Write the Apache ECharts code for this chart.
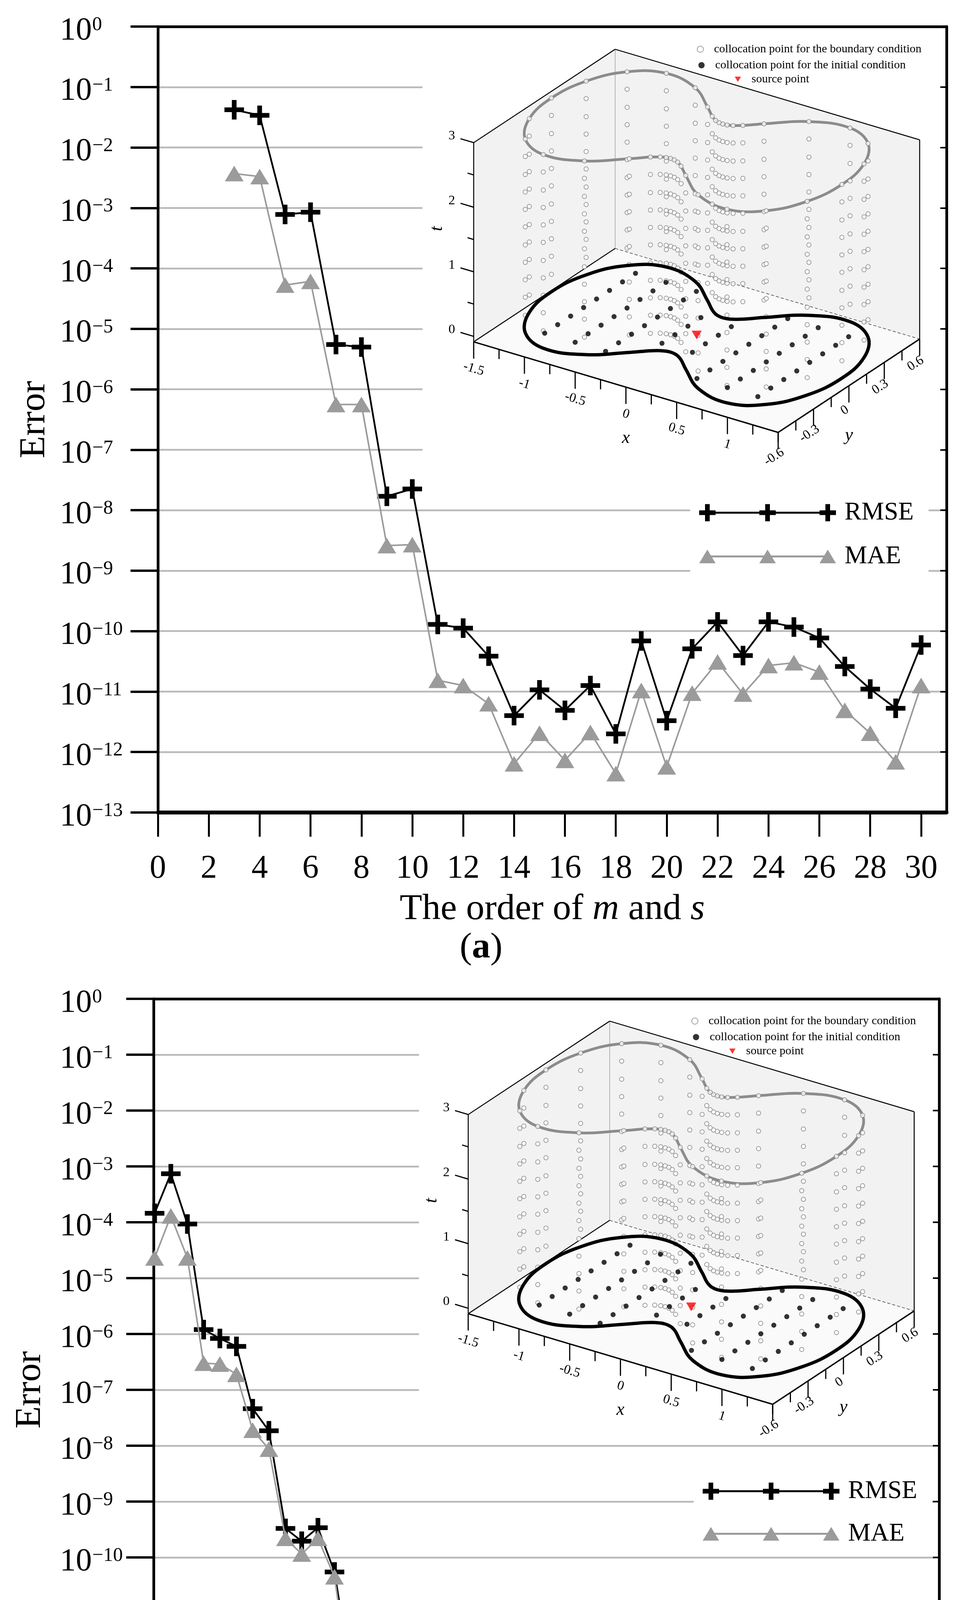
<!DOCTYPE html>
<html>
<head>
<meta charset="utf-8">
<title>Error against order and boundary collocation points</title>
<script src="https://cdn.jsdelivr.net/npm/echarts@6/dist/echarts.min.js"></script>
<style>
html, body { margin: 0; padding: 0; background: #fff; }
#chart { width: 2482px; height: 5000px; }
</style>
</head>
<body>
<div id="chart"></div>
<script>
// ---- (a) error against the order of m and s ----
var orderX = [3, 4, 5, 6, 7, 8, 9, 10, 11, 12, 13, 14, 15, 16, 17, 18, 19, 20, 21, 22, 23, 24, 25, 26, 27, 28, 29, 30];
var rmseOrder = [4.2e-2, 3.4e-2, 7.8e-4, 8.5e-4, 5.5e-6, 5.0e-6, 1.7e-8, 2.25e-8, 1.29e-10, 1.12e-10,
  3.85e-11, 4.0e-12, 1.07e-11, 4.9e-12, 1.26e-11, 2.0e-12, 6.9e-11, 3.3e-12, 5.1e-11, 1.42e-10,
  3.95e-11, 1.42e-10, 1.17e-10, 7.7e-11, 2.6e-11, 1.1e-11, 5.3e-12, 5.9e-11];
var maeOrder = [3.7e-3, 3.3e-3, 5.3e-5, 6.1e-5, 5.6e-7, 5.6e-7, 2.6e-9, 2.7e-9, 1.54e-11, 1.26e-11,
  6.3e-12, 6.4e-13, 2.05e-12, 7.3e-13, 2.1e-12, 4.4e-13, 1.04e-11, 5.7e-13, 9.4e-12, 3.1e-11,
  9.1e-12, 2.7e-11, 3.0e-11, 2.1e-11, 4.9e-12, 2.05e-12, 6.9e-13, 1.26e-11];
var orderTicks = [0, 2, 4, 6, 8, 10, 12, 14, 16, 18, 20, 22, 24, 26, 28, 30];

// ---- (b) error against the number of boundary collocation points ----
var pointsX = [136, 184, 233, 281, 329, 378, 426, 474, 523, 571, 619, 668,
  716, 764, 813, 861, 909, 958, 1006, 1054, 1103, 1151, 1199, 1248,
  1296, 1344, 1393, 1441, 1489, 1538, 1586, 1634, 1683, 1731, 1779, 1828,
  1876, 1924, 1973, 2021, 2069, 2118, 2166, 2214, 2263, 2311, 2359, 2408, 2456];
var rmsePoints = [1.45e-4, 7.4e-4, 9.3e-5, 1.2e-6, 8.3e-7, 6.0e-7, 4.6e-8, 1.85e-8, 3.3e-10, 1.95e-10, 3.4e-10, 5.5e-11,
  8.5e-13, 2.7e-12, 1.66e-12, 1.5e-12, 1.94e-12, 2.1e-13, 4.3e-13, 4.5e-13, 1.85e-13, 8.0e-13, 1.6e-13, 1.46e-13,
  3.0e-13, 3.1e-13, 1.6e-13, 1.8e-13, 1.7e-13, 1.85e-13, 1.85e-13, 1.85e-13, 1.85e-13, 1.85e-13, 1.85e-13, 1.85e-13,
  1.85e-13, 8.0e-14, 5.8e-13, 5.8e-13, 5.8e-13, 5.8e-13, 5.8e-13, 5.8e-13, 5.85e-13, 5.85e-13, 5.85e-13, 5.85e-13, 5.85e-13];
var maePoints = [2.3e-5, 1.3e-4, 2.3e-5, 3.0e-7, 2.9e-7, 1.9e-7, 1.9e-8, 8.7e-9, 2.2e-10, 1.15e-10, 2.2e-10, 4.5e-11,
  4.0e-13, 1.8e-12, 1.4e-12, 1.5e-12, 1.7e-12, 1.2e-13, 2.6e-13, 4.0e-13, 1.2e-13, 5.3e-13, 8.5e-14, 5.9e-14,
  1.6e-13, 1.45e-13, 5.4e-14, 6.1e-14, 5.9e-14, 1.0e-13, 7.0e-14, 7.0e-14, 9.2e-14, 8.5e-14, 8.5e-14, 9.0e-14,
  9.5e-14, 5.3e-14, 2.9e-13, 3.0e-13, 3.0e-13, 3.0e-13, 3.05e-13, 3.05e-13, 3.1e-13, 3.1e-13, 3.15e-13, 3.15e-13, 3.2e-13];
var pointsTicks = [300, 600, 900, 1200, 1500, 1800, 2100, 2400];

// ---- inset: peanut domain, boundary read in the first quadrant (mirrored below) ----
var boundQ1X = [1.431, 1.369, 1.187, 0.905, 0.560, 0.278, 0.151, 0.086, 0.040, 0.000];
var boundQ1Y = [0.000, 0.241, 0.432, 0.522, 0.470, 0.332, 0.262, 0.235, 0.224, 0.221];
var timeLevels = [0.27, 0.55, 0.82, 1.09, 1.36, 1.64, 1.91, 2.18, 2.45, 2.73, 3.0];
var nodeX = [-1.35, -1.05, -0.75, -0.45, -0.15, 0.15, 0.45, 0.75, 1.05, 1.35];
var nodeY = [-0.495, -0.385, -0.275, -0.165, -0.055, 0.055, 0.165, 0.275, 0.385, 0.495];
var sourcePoint = [0, 0, 0];
var insetXTicks = [-1.5, -1.25, -1, -0.75, -0.5, -0.25, 0, 0.25, 0.5, 0.75, 1, 1.25, 1.5];
var insetXLabels = [-1.5, -1, -0.5, 0, 0.5, 1];
var insetYTicks = [-0.6, -0.45, -0.3, -0.15, 0, 0.15, 0.3, 0.45, 0.6];
var insetYLabels = [-0.6, -0.3, 0, 0.3, 0.6];
var insetTTicks = [0, 0.5, 1, 1.5, 2, 2.5, 3];
var insetTLabels = [0, 1, 2, 3];

var FONT = 'Liberation Serif';
var NAME_BC = 'collocation point for the boundary condition';
var NAME_IC = 'collocation point for the initial condition';
var NAME_SP = 'source point';
var PLUS = 'path://M19 0H31V19H50V31H31V50H19V31H0V19H19Z';
var DOWN_TRI = 'path://M0 0H26L13 22Z';
var RMSE_ICON = 'path://M22 19.5H330V24.5H22Z M1 16H43V28H1Z M16 0H28V44H16Z M155 16H197V28H155Z M170 0H182V44H170Z M309 16H351V28H309Z M324 0H336V44H324Z';
var MAE_ICON = 'path://M22 19.5H330V24.5H22Z M22 4.5L43 39.5H1Z M176 4.5L197 39.5H155Z M330 4.5L351 39.5H309Z';

// oblique projection of (x, y, t) onto the inset plane
var EX = [259.7, -77.3], EY = [301.7, 199.2], ET = [0, 165.3];
var FLOOR_T = -0.085;
function proj(x, y, t) {
  return [x * EX[0] + y * EY[0] + t * ET[0], x * EX[1] + y * EY[1] + t * ET[1]];
}

var boundary = [];
for (var i = 0; i < boundQ1X.length; i++) boundary.push([boundQ1X[i], boundQ1Y[i]]);
for (i = boundQ1X.length - 2; i >= 0; i--) boundary.push([-boundQ1X[i], boundQ1Y[i]]);
var half = boundary.length;
for (i = 1; i < half - 1; i++) boundary.push([-boundary[i][0], -boundary[i][1]]);

function inside(px, py, poly) {
  var ins = false;
  for (var a = 0, b = poly.length - 1; a < poly.length; b = a++) {
    var xa = poly[a][0], ya = poly[a][1], xb = poly[b][0], yb = poly[b][1];
    if ((ya > py) !== (yb > py) && px < (xb - xa) * (py - ya) / (yb - ya) + xa) ins = !ins;
  }
  return ins;
}
var shrunk = boundary.map(function (p) { return [p[0] * 0.9, p[1] * 0.9]; });

var bcData = [];
timeLevels.forEach(function (t) {
  boundary.forEach(function (p) { bcData.push(proj(p[0], p[1], t)); });
});
var icData = [];
nodeX.forEach(function (x) {
  nodeY.forEach(function (y) { if (inside(x, y, shrunk)) icData.push(proj(x, y, 0)); });
});
var spData = [proj(sourcePoint[0], sourcePoint[1], sourcePoint[2])];

function insetBox(params, api) {
  var f = FLOOR_T;
  function c(x, y, t) { return api.coord(proj(x, y, t)); }
  function seg(p, q, color, w, dash) {
    return { type: 'line', shape: { x1: p[0], y1: p[1], x2: q[0], y2: q[1] },
      style: { stroke: color, lineWidth: w, lineDash: dash || null } };
  }
  function txt(p, s, size, italic, rot) {
    return { type: 'text', x: p[0], y: p[1], rotation: rot || 0,
      style: { text: s, fill: '#000', font: (italic ? 'italic ' : '') + size + 'px "Liberation Serif"',
        align: 'center', verticalAlign: 'middle' } };
  }
  var A = c(-1.5, -0.6, f), B = c(1.5, -0.6, f), C = c(1.5, 0.6, f), D = c(-1.5, 0.6, f);
  var A3 = c(-1.5, -0.6, 3), C3 = c(1.5, 0.6, 3), D3 = c(-1.5, 0.6, 3);
  var kids = [
    { type: 'polygon', shape: { points: [A, A3, D3, D] }, style: { fill: '#f2f2f2' } },
    { type: 'polygon', shape: { points: [D, D3, C3, C] }, style: { fill: '#f2f2f2' } },
    { type: 'polygon', shape: { points: [A, B, C, D] }, style: { fill: '#fafafa' } },
    seg(D, D3, '#a0a0a0', 1.5),
    seg(D, C, '#444', 1.5, [8, 5]),
    seg(A, D, '#000', 2.5),
    seg(A, A3, '#000', 2.5),
    seg(A3, D3, '#000', 2.5),
    seg(D3, C3, '#000', 2.5),
    seg(C3, C, '#000', 2.5),
    seg(A, B, '#000', 3.5),
    seg(B, C, '#000', 3.5)
  ];
  insetXTicks.forEach(function (v) {
    var major = insetXLabels.indexOf(v) >= 0;
    kids.push(seg(c(v, -0.6, f), c(v, -0.6, f - (major ? 0.26 : 0.15)), '#000', 3));
  });
  insetYTicks.forEach(function (v) {
    var major = insetYLabels.indexOf(v) >= 0;
    kids.push(seg(c(1.5, v, f), c(1.5, v, f - (major ? 0.26 : 0.15)), '#000', 3));
  });
  insetTTicks.forEach(function (v) {
    var major = insetTLabels.indexOf(v) >= 0;
    kids.push(seg(c(-1.5, -0.6, v), c(-1.5 - (major ? 0.13 : 0.06), -0.6, v), '#000', 3));
  });
  insetXLabels.forEach(function (v) { kids.push(txt(c(v, -0.6, f - 0.42), String(v), 34, false, -0.29)); });
  insetYLabels.forEach(function (v) { kids.push(txt(c(1.46, v, f - 0.4), String(v), 34, false, 0.58)); });
  insetTLabels.forEach(function (v) { kids.push(txt(c(-1.716, -0.6, v), String(v), 34, false, 0)); });
  kids.push(txt(c(0, -0.6, f - 0.79), 'x', 46, true, 0));
  kids.push(txt(c(1.5, 0, f - 0.77), 'y', 46, true, 0));
  kids.push(txt(c(-1.86, -0.6, 1.5), 't', 46, true, Math.PI / 2));
  kids.push({ type: 'polygon', shape: { points: boundary.map(function (p) { return c(p[0], p[1], 3); }), smooth: 0.4 },
    style: { fill: 'none', stroke: '#8c8c8c', lineWidth: 7 } });
  return { type: 'group', children: kids };
}

function insetFloorCurve(params, api) {
  return { type: 'polygon',
    shape: { points: boundary.map(function (p) { return api.coord(proj(p[0], p[1], 0)); }), smooth: 0.4 },
    style: { fill: 'none', stroke: '#000', lineWidth: 8.5 } };
}

function expLabel(v) {
  var e = Math.round(v);
  return '{b|10}{s|' + (e < 0 ? '\u2212' + (-e) : String(e)) + '}';
}

var option = {
  animation: false,
  backgroundColor: '#fff',
  title: [], grid: [], xAxis: [], yAxis: [], series: [], legend: [],
  graphic: { elements: [] }
};

function toLog(xs, ys) {
  return xs.map(function (x, k) { return [x, Math.log(ys[k]) / Math.LN10]; });
}

function addPanel(p) {
  var g = option.grid.length, xi = option.xAxis.length, yi = option.yAxis.length;
  option.grid.push({ left: p.left, top: p.top, width: p.right - p.left, height: p.bottom - p.top,
    show: false, outerBoundsMode: 'none' });
  option.xAxis.push({
    gridIndex: g, type: 'value', min: p.xMin, max: p.xMax, position: 'bottom', z: 8,
    name: p.xName, nameLocation: 'middle', nameGap: 201, nameMoveOverlap: false,
    nameTextStyle: { fontFamily: FONT, fontSize: 94, lineHeight: 94, color: '#000',
      rich: { i: { fontFamily: FONT, fontSize: 94, lineHeight: 94, fontStyle: 'italic', color: '#000' } } },
    axisLine: { show: true, onZero: false, lineStyle: { color: '#000', width: 10 } },
    axisTick: { show: true, customValues: p.xTicks, length: 62, lineStyle: { color: '#000', width: 5 } },
    axisLabel: { show: true, customValues: p.xTicks, margin: 103, fontFamily: FONT, fontSize: 84, lineHeight: 84,
      color: '#000', formatter: function (v) { return String(v); } },
    splitLine: { show: false }
  });
  option.xAxis.push({
    gridIndex: g, type: 'value', min: p.xMin, max: p.xMax, position: 'top', z: 8,
    axisLine: { show: true, onZero: false, lineStyle: { color: '#000', width: 7 } },
    axisTick: { show: false }, axisLabel: { show: false }, splitLine: { show: false }
  });
  option.yAxis.push({
    gridIndex: g, type: 'value', min: p.yMinExp, max: 0, interval: 1, position: 'left', z: 0,
    name: 'Error', nameLocation: 'middle', nameRotate: 90, nameGap: 269, nameMoveOverlap: false,
    nameTextStyle: { fontFamily: FONT, fontSize: 94, lineHeight: 94, color: '#000' },
    axisLine: { show: true, onZero: false, lineStyle: { color: '#000', width: 7 } },
    axisTick: { show: true, length: 70, lineStyle: { color: '#000', width: 6 } },
    axisLabel: {
      show: true, align: 'left', margin: p.labelMargin, padding: [20, 0, 0, 0], formatter: expLabel,
      rich: {
        b: { fontFamily: FONT, fontSize: 82, lineHeight: 84, verticalAlign: 'bottom', color: '#000' },
        s: { fontFamily: FONT, fontSize: 50, lineHeight: 50, verticalAlign: 'bottom', padding: [0, 0, 31, 1], color: '#000' }
      }
    },
    splitLine: { show: true, lineStyle: { color: '#b9b9b9', width: 4.5 } }
  });
  option.yAxis.push({
    gridIndex: g, type: 'value', min: p.yMinExp, max: 0, interval: 1, position: 'right', z: 8,
    axisLine: { show: true, onZero: false, lineStyle: { color: '#000', width: 7 } },
    axisTick: { show: true, inside: true, length: 16, lineStyle: { color: '#000', width: 4 } },
    axisLabel: { show: false }, splitLine: { show: false }
  });
  option.series.push({
    type: 'line', name: 'RMSE', xAxisIndex: xi, yAxisIndex: yi, data: toLog(p.xs, p.rmse),
    symbol: PLUS, symbolSize: 50, showAllSymbol: true, clip: false, z: 2,
    lineStyle: { color: '#000', width: 4.5 }, itemStyle: { color: '#000' }
  });
  option.series.push({
    type: 'line', name: 'MAE', xAxisIndex: xi, yAxisIndex: yi, data: toLog(p.xs, p.mae),
    symbol: 'triangle', symbolSize: [48, 40], showAllSymbol: true, clip: false, z: 3,
    lineStyle: { color: '#9b9b9b', width: 4 }, itemStyle: { color: '#9b9b9b' }
  });
  option.legend.push({
    data: [{ name: 'RMSE', icon: RMSE_ICON }, { name: 'MAE', icon: MAE_ICON }],
    orient: 'vertical', left: p.legendLeft, top: p.legendTop, itemWidth: 350, itemHeight: 44,
    itemGap: p.legendGap, padding: [20, 38, 25, 23], backgroundColor: '#fff', selectedMode: false, z: 10,
    textStyle: { fontFamily: FONT, fontSize: 65, lineHeight: 44, color: '#000', padding: [0, 0, 0, 17] }
  });
  option.title.push({
    text: '({b|' + p.tag + '})', left: 1226, top: p.tagTop, textAlign: 'center',
    textStyle: { fontFamily: FONT, fontSize: 94, lineHeight: 100, fontWeight: 'normal', color: '#000',
      rich: { b: { fontFamily: FONT, fontSize: 94, lineHeight: 100, fontWeight: 'bold', color: '#000' } } }
  });

  // inset with its own hidden cartesian plane
  var bg = p.insetBg;
  option.graphic.elements.push({ type: 'rect', z: 1, silent: true,
    shape: { x: bg[0], y: bg[1], width: bg[2], height: bg[3] }, style: { fill: '#fff' } });
  var ig = option.grid.length, ixi = option.xAxis.length, iyi = option.yAxis.length;
  option.grid.push({ left: p.ox - 700, top: p.oy - 775, width: 1340, height: 1175, show: false, outerBoundsMode: 'none' });
  option.xAxis.push({ gridIndex: ig, type: 'value', min: -700, max: 640, show: false });
  option.yAxis.push({ gridIndex: ig, type: 'value', min: -400, max: 775, show: false });
  option.series.push({ type: 'custom', xAxisIndex: ixi, yAxisIndex: iyi, data: [[0, 0]],
    renderItem: insetBox, clip: false, silent: true, z: 2 });
  option.series.push({ type: 'scatter', name: NAME_BC, xAxisIndex: ixi, yAxisIndex: iyi, data: bcData,
    symbol: 'emptyCircle', symbolSize: 11, z: 3, silent: true,
    itemStyle: { color: '#8a8a8a', borderColor: '#8a8a8a', borderWidth: 1.5 } });
  option.series.push({ type: 'custom', xAxisIndex: ixi, yAxisIndex: iyi, data: [[0, 0]],
    renderItem: insetFloorCurve, clip: false, silent: true, z: 4 });
  option.series.push({ type: 'scatter', name: NAME_IC, xAxisIndex: ixi, yAxisIndex: iyi, data: icData,
    symbol: 'circle', symbolSize: 13, z: 5, silent: true, itemStyle: { color: '#000' } });
  option.series.push({ type: 'scatter', name: NAME_SP, xAxisIndex: ixi, yAxisIndex: iyi, data: spData,
    symbol: DOWN_TRI, symbolSize: [26, 22], z: 6, silent: true, itemStyle: { color: '#ff0000' } });
  [NAME_BC, NAME_IC, NAME_SP].forEach(function (name, k) {
    option.legend.push({
      data: [name], orient: 'vertical', left: p.insetLegend[k][0], top: p.insetLegend[k][1],
      itemWidth: 16, itemHeight: 16, padding: 0, selectedMode: false, z: 10,
      textStyle: { fontFamily: FONT, fontSize: 30, lineHeight: 30, color: '#000', padding: [0, 0, 0, 22] }
    });
  });
}

addPanel({
  left: 404, right: 2422, top: 68, bottom: 2080, xMin: 0, xMax: 31, xTicks: orderTicks, yMinExp: -13,
  labelMargin: 251, xName: 'The order of {i|m} and {i|s}', xs: orderX, rmse: rmseOrder, mae: maeOrder,
  legendLeft: 1766, legendTop: 1260, legendGap: 47, tag: 'a', tagTop: 2372,
  ox: 1782.6, oy: 857.5, insetBg: [1081, 73, 1336, 1167],
  insetLegend: [[1783, 111], [1787, 152], [1880, 188]]
});
addPanel({
  left: 393, right: 2403, top: 2557, bottom: 4559, xMin: 133, xMax: 2456, xTicks: pointsTicks, yMinExp: -14,
  labelMargin: 240, xName: 'The boundary collocation points', xs: pointsX, rmse: rmsePoints, mae: maePoints,
  legendLeft: 1775, legendTop: 3765, legendGap: 44, tag: 'b', tagTop: 4852,
  ox: 1768.6, oy: 3345.5, insetBg: [1072, 2562, 1326, 1068],
  insetLegend: [[1769, 2599], [1773, 2640], [1866, 2676]]
});

var chart = echarts.init(document.getElementById('chart'));
chart.setOption(option);
</script>
</body>
</html>
